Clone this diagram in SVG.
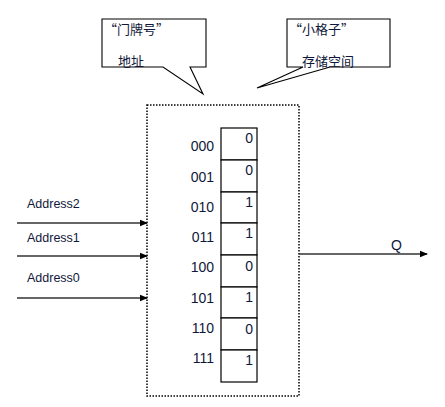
<svg xmlns="http://www.w3.org/2000/svg" width="445" height="407" viewBox="0 0 445 407">
<style>
.t{font-family:"Liberation Sans",Arial,sans-serif;fill:#10183a}
.cjk{font-family:"Noto Sans CJK SC","Liberation Sans",sans-serif;font-size:13px;fill:#10183a}
.num{font-size:14px}
.addr{font-size:12.5px}
.cell{fill:#fff;stroke:#000;stroke-width:1.2}
.wire{stroke:#333;stroke-width:1.5;fill:none}
.callout{fill:#fff;stroke:#000;stroke-width:1.1}
</style>
<defs>
<marker id="arr" markerWidth="8" markerHeight="8" refX="7" refY="4" orient="auto" markerUnits="userSpaceOnUse">
<path d="M0,0.8 L8,4 L0,7.2 Z" fill="#000"/>
</marker>
</defs>
<rect width="445" height="407" fill="#fff"/>
<g id="callout-address">
<path class="callout" d="M102,19 H206 V67 H190 L203,94 L163,67 H102 Z"/>
<text class="cjk" x="104" y="34">“门牌号”</text>
<text class="cjk" x="118" y="66">地址</text>
</g>
<g id="callout-storage">
<path class="callout" d="M287,19 H390 V67 H330 L257,88 L303,67 H287 Z"/>
<text class="cjk" x="289" y="34">“小格子”</text>
<text class="cjk" x="302" y="66">存储空间</text>
</g>
<g id="memory-box">
<rect x="147" y="105" width="152" height="291" fill="none" stroke="#000" stroke-width="1.5" stroke-dasharray="1.5 1.5"/>
</g>
<g id="cells">
<rect class="cell" x="221" y="128" width="36" height="32"/>
<rect class="cell" x="221" y="160" width="36" height="32"/>
<rect class="cell" x="221" y="192" width="36" height="31"/>
<rect class="cell" x="221" y="223" width="36" height="32"/>
<rect class="cell" x="221" y="255" width="36" height="32"/>
<rect class="cell" x="221" y="287" width="36" height="31"/>
<rect class="cell" x="221" y="318" width="36" height="32"/>
<rect class="cell" x="221" y="350" width="36" height="32"/>
<g class="t num" text-anchor="end">
<text x="253" y="143">0</text>
<text x="253" y="175">0</text>
<text x="253" y="207">1</text>
<text x="253" y="238">1</text>
<text x="253" y="271">0</text>
<text x="253" y="302">1</text>
<text x="253" y="334">0</text>
<text x="253" y="365">1</text>
</g>
</g>
<g id="address-labels" class="t num" text-anchor="end">
<text x="214" y="151">000</text>
<text x="214" y="182">001</text>
<text x="214" y="212">010</text>
<text x="214" y="242">011</text>
<text x="214" y="272">100</text>
<text x="214" y="303">101</text>
<text x="214" y="333">110</text>
<text x="214" y="363">111</text>
</g>
<g id="connectors">
<line class="wire" x1="17" y1="223" x2="147" y2="223" marker-end="url(#arr)"/>
<line class="wire" x1="17" y1="256" x2="147" y2="256" marker-end="url(#arr)"/>
<line class="wire" x1="17" y1="298" x2="147" y2="298" marker-end="url(#arr)"/>
<line class="wire" x1="299" y1="254" x2="427" y2="254" marker-end="url(#arr)"/>
</g>
<g id="input-labels" class="t addr">
<text x="27" y="208">Address2</text>
<text x="27" y="242">Address1</text>
<text x="27" y="282">Address0</text>
</g>
<g id="output-label">
<text class="t num" x="391" y="250">Q</text>
</g>
</svg>
